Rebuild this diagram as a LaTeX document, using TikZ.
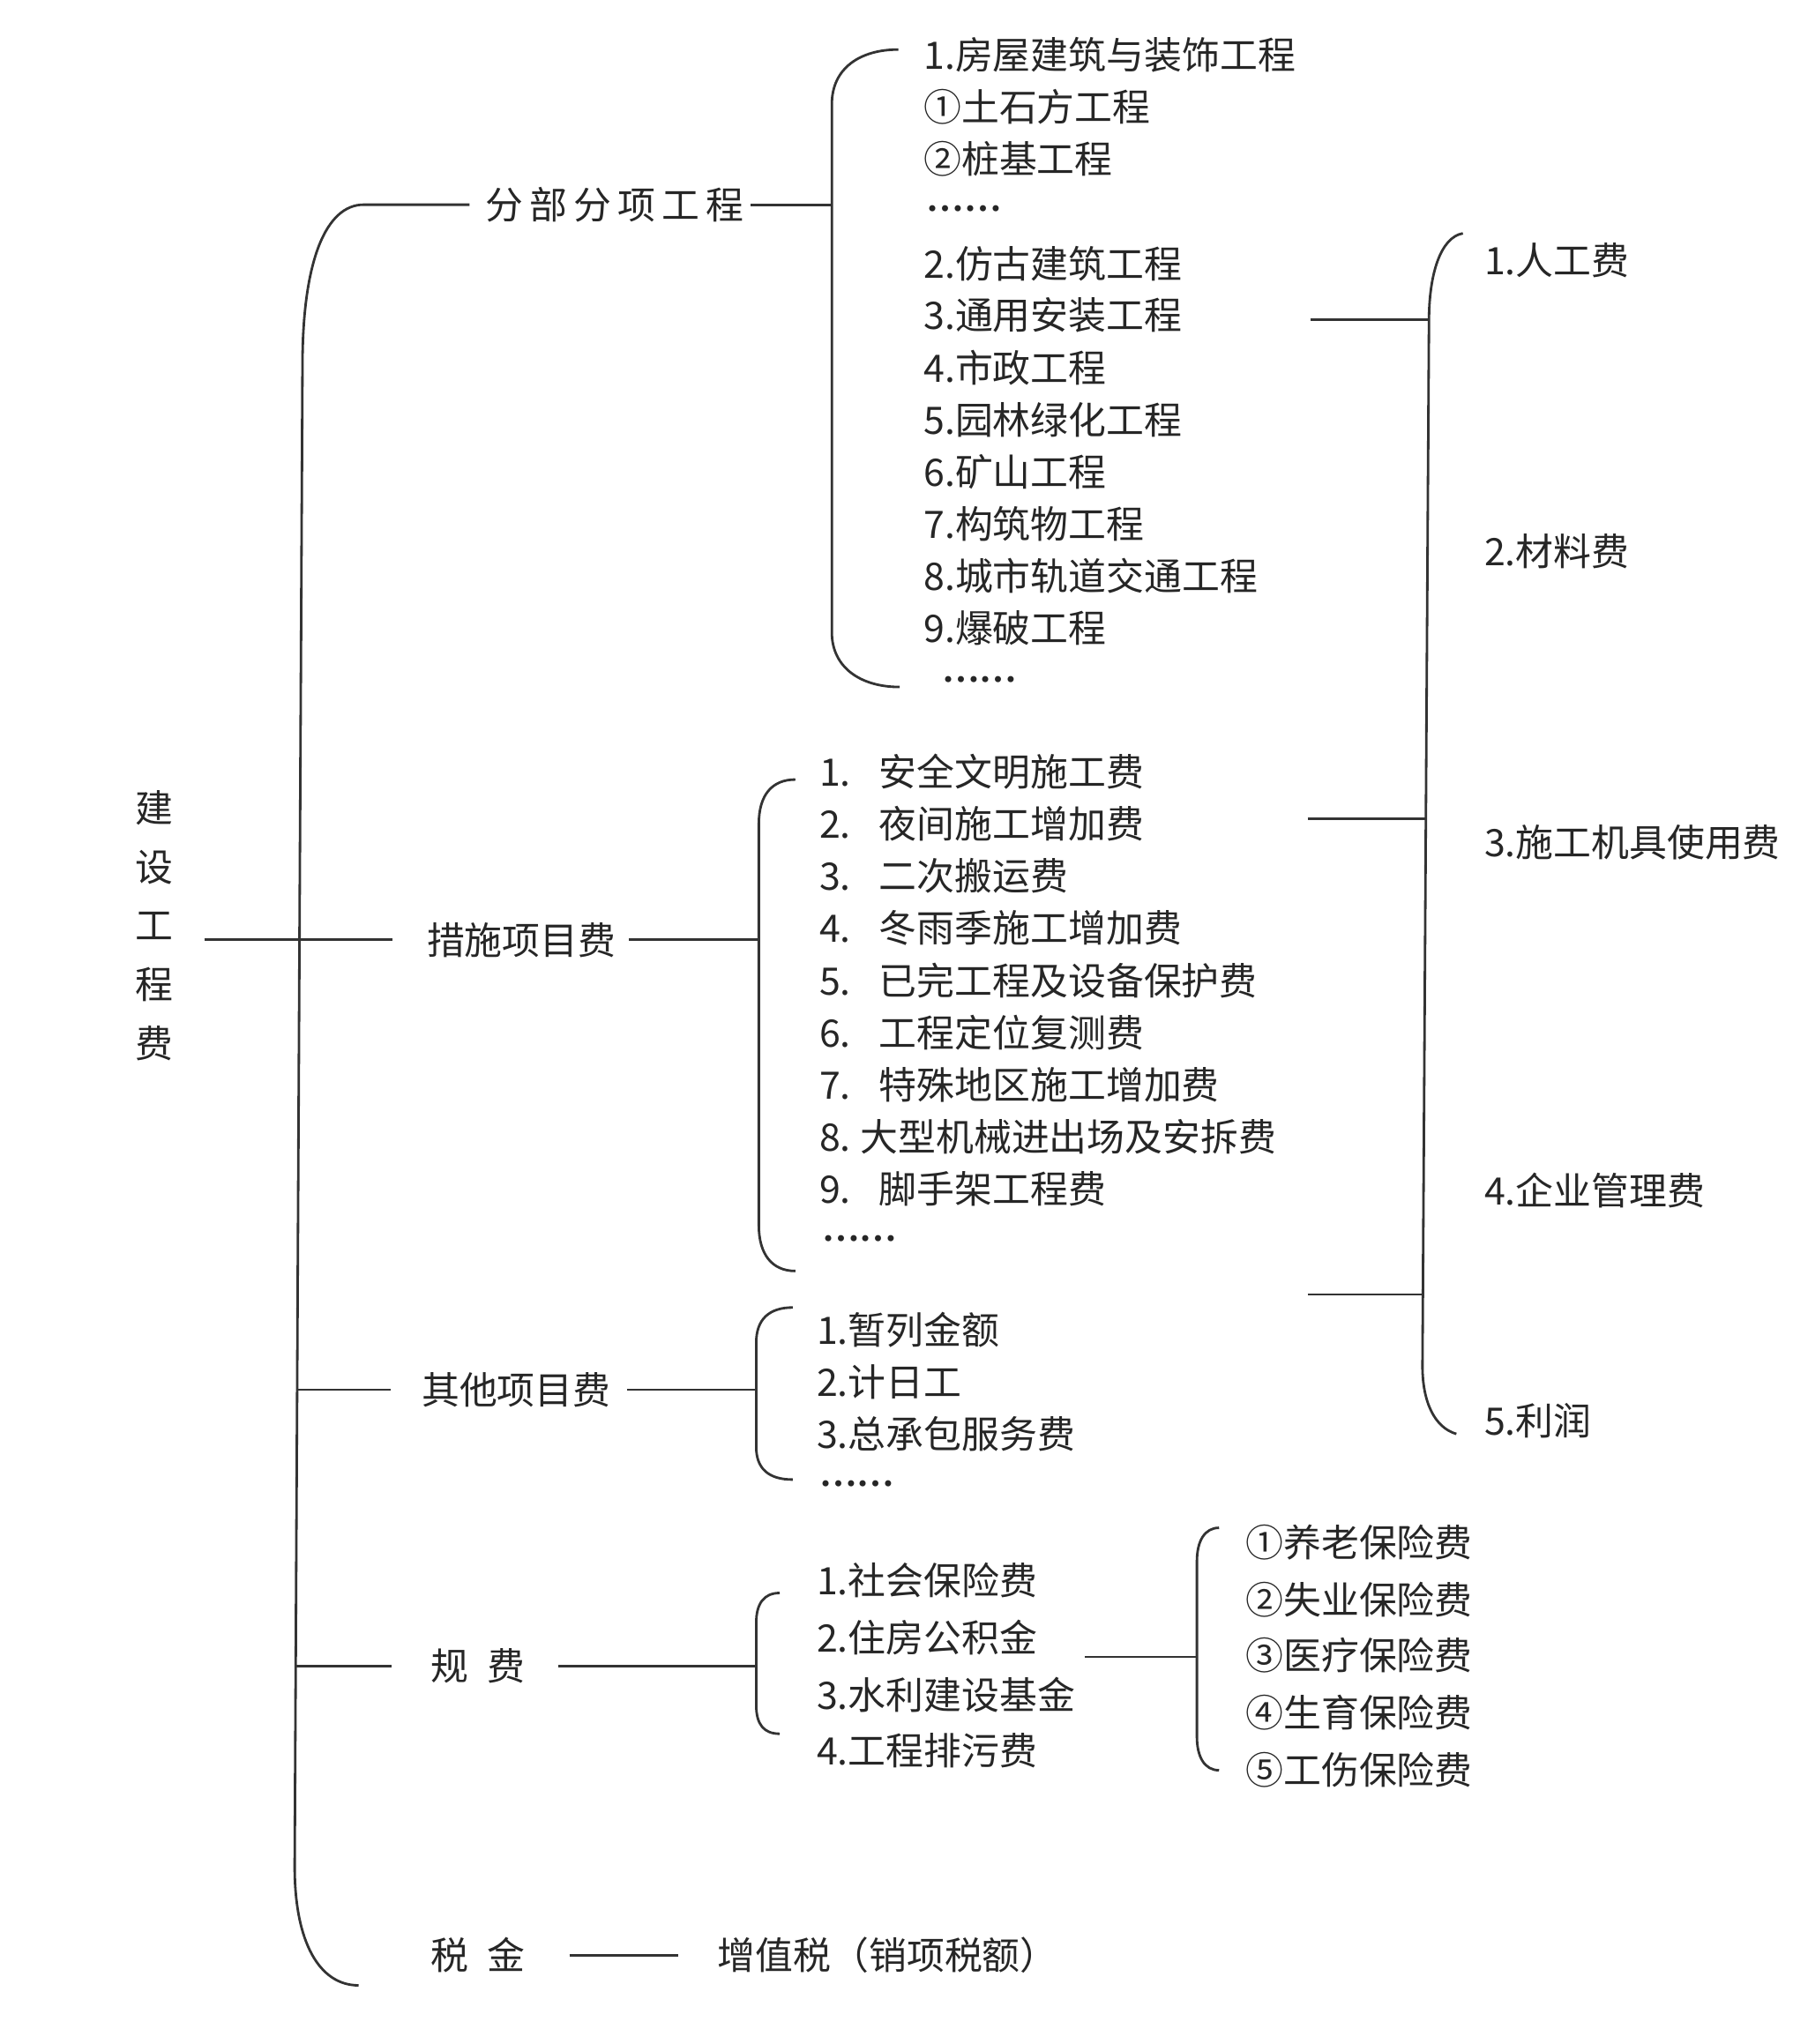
\documentclass[tikz,border=0pt]{standalone}
\usepackage{fontspec}
\setmainfont{Noto Sans CJK SC}
\newfontfamily\dotsfont{Liberation Serif Bold}

\begin{document}
\begin{tikzpicture}[x=0.014785cm, y=-0.014785cm,
  every node/.style={font=\fontsize{12.2}{14}\selectfont, text=black!85, inner sep=0pt},
  item/.style={anchor=west},
  dots/.style={anchor=west, font=\dotsfont\fontsize{12.2}{14}\selectfont},
  link/.style={draw=black!80, line width=0.8pt},
  brace/.style={draw=black!80, line width=0.8pt}]
\useasboundingbox (0,0) rectangle (1375,1568);

% root and first level
\node[align=center, font=\fontsize{12.2}{19}\selectfont] (root) at (118,710) {建\\设\\工\\程\\费};
\node[item] (fbfx) at (372,157) {分\,部\,分\,项\,工\,程};
\node[item] (csxm) at (327,721) {措施项目费};
\node[item] (qtxm) at (323,1066) {其他项目费};
\node[item] (gf) at (330,1278) {规\hspace{0.5em}费};
\node[item] (sj) at (330,1500) {税\hspace{0.5em}金};
\node[item] (zzs) at (550,1500) {增值税（销项税额）};

% main brace
\draw[brace] ([xshift=-5pt]fbfx.west) -- (279,157) .. controls (250,157) and (232,200) .. (232,280)
  -- (226,1432) .. controls (226,1490) and (245,1523) .. (275,1523);
\coordinate (mbq) at (228,1066);
\coordinate (mbg) at (227,1278);
\draw[link] ([xshift=10pt]root.east |- csxm.west) -- ([xshift=-11pt]csxm.west);
\draw[link] (mbq) -- ([xshift=-9.7pt]qtxm.west);
\draw[link] (mbg) -- ([xshift=-12.6pt]gf.west);
\draw[link] ([xshift=14pt]sj.east) -- ([xshift=-12.6pt]zzs.west);

% 分部分项工程
\coordinate (b1) at (638,157);
\draw[link] ([xshift=2pt]fbfx.east) -- (b1);
\draw[brace] (689,38) .. controls (660,38) and (638,52) .. (638,80) -- (638,485)
  .. controls (638,512) and (660,527) .. (690,527);
\node[item] (fb1) at (708,42) {1.房屋建筑与装饰工程};
\node[item] (fb2) at (708,82) {①土石方工程};
\node[item] (fb3) at (708,122) {②桩基工程};
\node[dots] (fb4) at (710,160) {……};
\node[item] (fb5) at (708,202) {2.仿古建筑工程};
\node[item] (fb6) at (708,242) {3.通用安装工程};
\node[item] (fb7) at (708,282) {4.市政工程};
\node[item] (fb8) at (708,322) {5.园林绿化工程};
\node[item] (fb9) at (708,362) {6.矿山工程};
\node[item] (fb10) at (708,402) {7.构筑物工程};
\node[item] (fb11) at (708,442) {8.城市轨道交通工程};
\node[item] (fb12) at (708,482) {9.爆破工程};
\node[dots] (fb13) at (722,521) {……};

% 措施项目费
\coordinate (b2) at (582,721);
\draw[link] ([xshift=4pt]csxm.east) -- (b2);
\draw[brace] (610,598) .. controls (592,598) and (582,610) .. (582,632) -- (582,940)
  .. controls (582,962) and (592,975) .. (610,975);
\node[item] (cs1) at (628,592) {1.\hspace{0.75em}安全文明施工费};
\node[item] (cs2) at (628,632) {2.\hspace{0.75em}夜间施工增加费};
\node[item] (cs3) at (628,672) {3.\hspace{0.75em}二次搬运费};
\node[item] (cs4) at (628,712) {4.\hspace{0.75em}冬雨季施工增加费};
\node[item] (cs5) at (628,752) {5.\hspace{0.75em}已完工程及设备保护费};
\node[item] (cs6) at (628,792) {6.\hspace{0.75em}工程定位复测费};
\node[item] (cs7) at (628,832) {7.\hspace{0.75em}特殊地区施工增加费};
\node[item] (cs8) at (628,872) {8.\hspace{0.25em}大型机械进出场及安拆费};
\node[item] (cs9) at (628,912) {9.\hspace{0.75em}脚手架工程费};
\node[dots] (cs10) at (630,950) {……};

% 其他项目费
\coordinate (b3) at (580,1066);
\draw[link] ([xshift=5pt]qtxm.east) -- (b3);
\draw[brace] (608,1003) .. controls (590,1003) and (580,1012) .. (580,1030) -- (580,1110)
  .. controls (580,1127) and (590,1135) .. (608,1135);
\node[item] (qt1) at (626,1020) {1.暂列金额};
\node[item] (qt2) at (626,1060) {2.计日工};
\node[item] (qt3) at (626,1100) {3.总承包服务费};
\node[dots] (qt4) at (628,1138) {……};

% 规费
\coordinate (b4) at (580,1278);
\draw[link] ([xshift=10.5pt]gf.east) -- (b4);
\draw[brace] (598,1222) .. controls (586,1222) and (580,1230) .. (580,1245) -- (580,1308)
  .. controls (580,1323) and (586,1330) .. (598,1330);
\node[item] (gf1) at (626,1212) {1.社会保险费};
\node[item] (gf2) at (626,1256) {2.住房公积金};
\node[item] (gf3) at (626,1300) {3.水利建设基金};
\node[item] (gf4) at (626,1343) {4.工程排污费};

% 社会保险费
\coordinate (sbl) at (832,1271);
\coordinate (b5) at (918,1271);
\draw[link] (sbl) -- (b5);
\draw[brace] (935,1172) .. controls (924,1172) and (918,1182) .. (918,1198) -- (918,1332)
  .. controls (918,1348) and (924,1358) .. (935,1358);
\node[item] (sb1) at (955,1183) {①养老保险费};
\node[item] (sb2) at (955,1227) {②失业保险费};
\node[item] (sb3) at (955,1270) {③医疗保险费};
\node[item] (sb4) at (955,1314) {④生育保险费};
\node[item] (sb5) at (955,1358) {⑤工伤保险费};

% 费用构成
\coordinate (fl1) at (1005,245);
\coordinate (fl2) at (1003,628);
\coordinate (fl3) at (1003,993);
\draw[link] (fl1) -- (1096,245);
\draw[link] (fl2) -- (1093.6,628);
\draw[link] (fl3) -- (1091.3,993);
\draw[brace] (1122,179) .. controls (1105,182) and (1096,210) .. (1096,246) -- (1091,1048)
  .. controls (1091,1075) and (1100,1095) .. (1117,1100);
\node[item] (fee1) at (1138,200) {1.人工费};
\node[item] (fee2) at (1138,423) {2.材料费};
\node[item] (fee3) at (1138,646) {3.施工机具使用费};
\node[item] (fee4) at (1138,913) {4.企业管理费};
\node[item] (fee5) at (1138,1090) {5.利润};
\end{tikzpicture}
\end{document}
